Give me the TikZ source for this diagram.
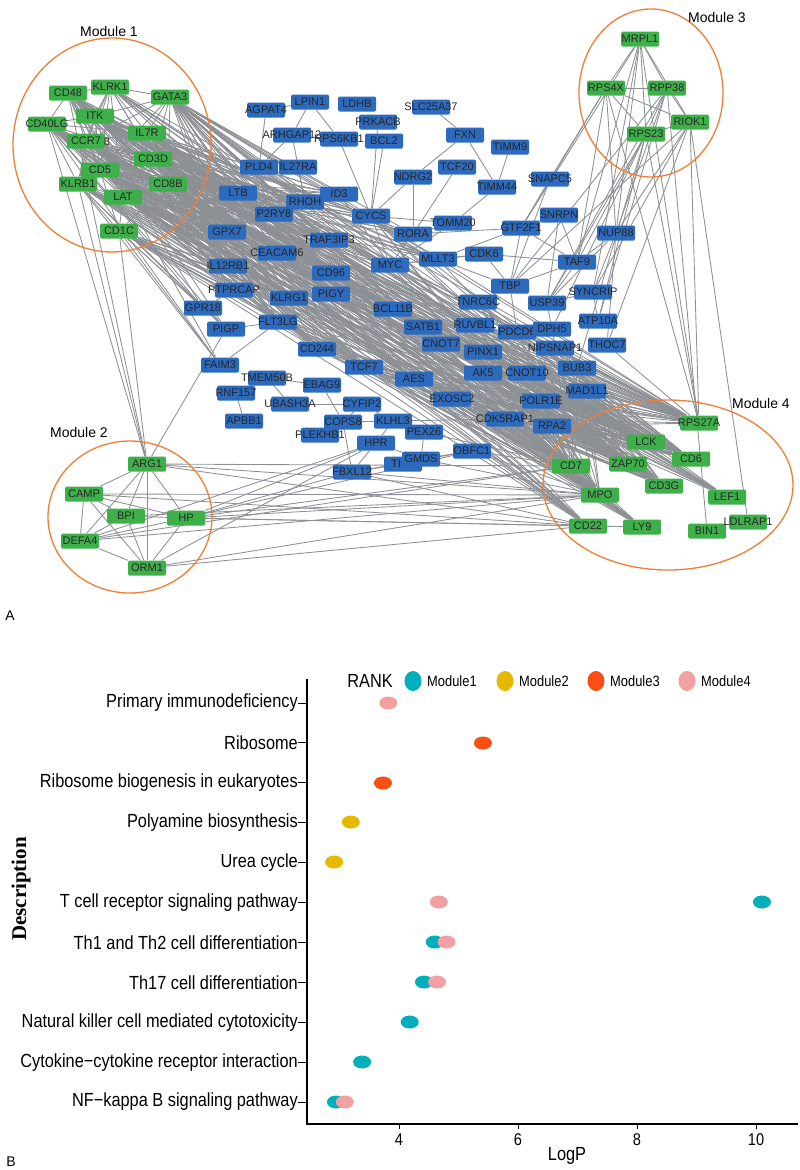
\documentclass[tikz,border=0pt]{standalone}
\usepackage{fontspec}
\setmainfont{Liberation Sans}
\newfontfamily\narrowfont[FakeStretch=0.86]{Liberation Sans}
\newfontfamily\serifbold{Liberation Serif}

\definecolor{genegreen}{RGB}{62,176,74}
\definecolor{geneblue}{RGB}{44,106,190}
\definecolor{edgegray}{RGB}{140,143,148}
\definecolor{ringorange}{RGB}{240,126,52}
\definecolor{modA}{RGB}{0,175,187}
\definecolor{modB}{RGB}{231,184,0}
\definecolor{modC}{RGB}{250,78,20}
\definecolor{modD}{RGB}{242,160,164}

\pgfdeclarelayer{edges}
\pgfsetlayers{edges,main}

\tikzset{
  gene/.style={rectangle, rounded corners=1.5pt, minimum width=38pt, minimum height=15pt, inner sep=0pt},
  m/.style={gene, fill=genegreen},
  h/.style={gene, fill=geneblue},
  gtext/.style={font=\fontsize{11}{13}\selectfont, text=black!85, inner sep=0pt},
  modlab/.style={font=\fontsize{14}{16}\selectfont},
  modring/.style={draw=ringorange, line width=1.3pt},
  link/.style={draw=edgegray, line width=0.85pt},
  rowlab/.style={font=\narrowfont\fontsize{19}{21}\selectfont, anchor=east, inner sep=0pt},
  legtext/.style={font=\narrowfont\fontsize{15}{17}\selectfont, anchor=west, inner sep=0pt},
  ticklab/.style={font=\narrowfont\fontsize{17}{19}\selectfont}
}

% box + label drawn on top (long labels run over the box)
\newcommand{\gene}[4]{\node[#1] (#2) at (#3) {}; \node[gtext] at (#2.center) {#4};}

\begin{document}
\begin{tikzpicture}[x=1pt,y=-1pt]
\useasboundingbox (0,0) rectangle (800,1170);

% ---------- (A) network ----------
% module rings
\draw[modring] (112,145) ellipse (99pt and 107pt);
\draw[modring] (130,517) ellipse (82pt and 76pt);
\draw[modring] (651,93) ellipse (72pt and 84pt);
\draw[modring] (668,485) ellipse (125pt and 85pt);
\node[modlab] at (109,31) {Module 1};
\node[modlab] at (79,432) {Module 2};
\node[modlab] at (717,17) {Module 3};
\node[modlab] at (761,403) {Module 4};

% green hub genes
\foreach \n/\x/\y in {CD48/68/93, KLRK1/110/87, GATA3/170/97, ITK/95/116, CD40LG/47/124,
    IL7R/147/133, CCR7/86/141, CD3D/153/159, CD5/100/170, KLRB1/78/184, CD8B/168/184,
    LAT/123/197, CD1C/119/231,
    MRPL1/640/39, RPS4X/606/88, RPP38/667/88, RIOK1/690/122, RPS23/646/134,
    ARG1/147/464, CAMP/84/494, BPI/126/516, HP/186/518, DEFA4/80/541, ORM1/147/568,
    RPS27A/699/423, LCK/646/442, CD6/691/459, CD7/571/466, ZAP70/628/464, CD3G/664/486,
    MPO/600/495, LEF1/727/497, CD22/588/526, LY9/642/527, BIN1/707/531, LDLRAP1/748/522}
  \gene{m}{\n}{\x,\y}{\n};
\node[gtext] (ccr7b) at (107,142) {8};

% blue genes
\foreach \n/\x/\y in {AGPAT4/266/110, LPIN1/310/102, LDHB/357/104, SLC25A37/431/107,
    PRKACB/378/122, ARHGAP12/292/135, RPS6KB1/339/139, BCL2/384/141, FXN/465/135,
    PLD4/259/167, IL27RA/298/167, NDRG2/413/177, TCF20/457/167, TIMM9/510/147,
    SNAPC5/550/179, TIMM44/497/187, LTB/238/193, ID3/339/194, RHOH/305/202,
    P2RY8/274/214, CYCS/371/216, TOMM20/453/223, SNRPN/559/215, GTF2F1/521/228,
    NUP88/616/233, RORA/413/234, GPX7/227/232, TRAF3IP3/329/240, CEACAM6/277/253,
    MYC/390/265, MLLT3/438/259, CDK6/484/254, TAF9/577/262, IL12RB1/228/266,
    CD96/331/273, TBP/510/286, SYNCRIP/593/292, PTPRCAP/234/290, PIGY/331/294,
    KLRG1/289/298, TNRC6C/478/302, USP39/547/303, GPR18/203/308, BCL11B/393/309,
    ATP10A/598/321, FLT3LG/278/322, RUVBL1/475/325, SATB1/423/327, PIGP/226/329,
    PDCD6/517/332, DPH5/552/329, CNOT7/441/344, THOC7/607/345, NIPSNAP1/555/348,
    CD244/317/349, PINX1/483/352, FAIM3/220/365, TCF7/364/367, BUB3/577/368,
    CNOT10/527/373, AK5/483/373, TMEM50B/267/378, AES/414/379, EBAG9/322/385,
    MAD1L1/587/391, RNF157/236/393, EXOSC2/452/399, POLR1E/541/401, UBASH3A/290/404,
    CYFIP2/362/404, CDK5RAP1/505/419, APBB1/244/421, COPS8/343/422, KLHL3/393/421,
    RPA2/552/426, PEX26/424/432, PLEKHB1/320/435, HPR/376/443, OBFC1/472/451,
    FBXL12/352/472}
  \gene{h}{\n}{\x,\y}{\n};
\node[h] (TIx) at (403,464) {};
\node[gtext] at (396,464) {TI};
\gene{h}{GMDS}{421,459}{GMDS};

\begin{pgfonlayer}{edges}
% inside module 1
\foreach \a/\b in {CD48/KLRK1, CD48/ITK, CD48/CD40LG, CD48/CCR7, CD48/IL7R, CD48/CD3D,
    CD48/CD5, CD48/LAT, CD48/CD8B, KLRK1/GATA3, KLRK1/ITK, KLRK1/CCR7, KLRK1/IL7R,
    KLRK1/CD3D, KLRK1/CD5, KLRK1/KLRB1, KLRK1/CD8B, KLRK1/LAT, GATA3/ITK, GATA3/IL7R,
    GATA3/CCR7, GATA3/CD3D, GATA3/CD8B, GATA3/CD5, ITK/CD40LG, ITK/IL7R, ITK/CCR7,
    ITK/CD3D, ITK/CD5, ITK/LAT, ITK/CD8B, ITK/KLRB1, CD40LG/CCR7, CD40LG/CD5,
    CD40LG/KLRB1, CD40LG/IL7R, CD40LG/CD3D, CD40LG/LAT, IL7R/CCR7, IL7R/CD3D, IL7R/CD8B,
    IL7R/LAT, IL7R/CD5, CCR7/CD3D, CCR7/CD5, CCR7/LAT, CCR7/CD8B, CCR7/KLRB1, CD3D/CD5,
    CD3D/CD8B, CD3D/LAT, CD5/KLRB1, CD5/LAT, CD5/CD8B, CD5/CD1C, KLRB1/LAT, CD8B/LAT,
    LAT/CD1C, CD8B/CD1C, KLRB1/CD1C}
  \draw[link] (\a) -- (\b);
% module 1 to module 4
\foreach \a in {CD48,KLRK1,GATA3,ITK,CD40LG,IL7R,CCR7,CD3D,CD5,KLRB1,CD8B,LAT,CD1C}
  \foreach \b in {LCK,ZAP70,CD3G,CD6,CD7,LEF1,RPS27A,CD22,LY9,MPO}
    \draw[link] (\a) -- (\b);
% module 1 to blue genes
\foreach \a in {ITK,IL7R,CD3D,CD5,CD8B,LAT,CCR7,GATA3}
  \foreach \b in {CD96,KLRG1,PIGY,CD244,BCL11B,SATB1,TCF7,AES,MYC,RORA,FLT3LG,IL12RB1,
      CEACAM6,GPX7,LTB,P2RY8,RHOH,ID3,CYCS,TRAF3IP3,RUVBL1,CNOT7,MLLT3}
    \draw[link] (\a) -- (\b);
\foreach \a in {CD40LG,CD48,KLRB1,CD1C}
  \foreach \b in {PTPRCAP,GPR18,PIGP,FAIM3,IL12RB1,CD244,TCF7,KLRG1}
    \draw[link] (\a) -- (\b);
% blue genes to module 4
\foreach \a in {CD96,KLRG1,PIGY,CD244,BCL11B,SATB1,TCF7,AES,CNOT7,PINX1,AK5,CNOT10,
    POLR1E,RPA2,CDK5RAP1,EXOSC2,MAD1L1,BUB3,MYC,RUVBL1,TNRC6C,PDCD6,NIPSNAP1,FLT3LG,CYCS}
  \foreach \b in {LCK,ZAP70,CD3G,CD7,RPS27A,MPO,CD6}
    \draw[link] (\a) -- (\b);
% module 2
\foreach \a/\b in {ARG1/CAMP, ARG1/BPI, ARG1/HP, ARG1/DEFA4, ARG1/ORM1, CAMP/BPI,
    CAMP/HP, CAMP/DEFA4, CAMP/ORM1, BPI/HP, BPI/DEFA4, BPI/ORM1, HP/DEFA4, HP/ORM1,
    DEFA4/ORM1, ARG1/CD48, ARG1/CD40LG, ARG1/KLRB1, ARG1/CD1C, ARG1/PIGP, ARG1/MPO,
    ARG1/CD7, ARG1/CD22, CAMP/MPO, CAMP/CD22, HP/MPO, HP/CD22, HP/LY9, HP/CD7, HP/HPR,
    HP/FBXL12, HP/OBFC1, BPI/MPO, DEFA4/MPO, DEFA4/CD7, DEFA4/HPR, ORM1/MPO, ORM1/HPR,
    ORM1/CD22}
  \draw[link] (\a) -- (\b);
% module 3
\foreach \a/\b in {MRPL1/RPS4X, MRPL1/RPP38, MRPL1/RPS23, MRPL1/RIOK1, RPS4X/RPP38,
    RPS4X/RPS23, RPS4X/RIOK1, RPP38/RPS23, RPP38/RIOK1, RPS23/RIOK1, RPS4X/GTF2F1,
    RPS4X/SNAPC5, RPS4X/NUP88, RPS4X/TAF9, MRPL1/NUP88, MRPL1/TAF9, MRPL1/SYNCRIP,
    MRPL1/RPS27A, RPP38/NUP88, RPP38/USP39, RPP38/TBP, RPP38/ATP10A, RPP38/BIN1,
    RIOK1/RPS27A, RIOK1/NUP88, RIOK1/SYNCRIP, RIOK1/THOC7, RIOK1/TBP, RIOK1/LDLRAP1,
    RPS23/TAF9, RPS23/USP39, RPS23/DPH5, RPS23/ATP10A, RPS23/RPS27A, RPS23/BUB3,
    MRPL1/GTF2F1, RPS4X/RPS27A}
  \draw[link] (\a) -- (\b);
% among blue genes
\foreach \a/\b in {AGPAT4/LPIN1, AGPAT4/PLD4, LPIN1/ARHGAP12, LPIN1/RPS6KB1,
    ARHGAP12/PLD4, ARHGAP12/RHOH, IL27RA/RHOH, RPS6KB1/CYCS, PRKACB/CYCS, BCL2/CYCS,
    SLC25A37/FXN, FXN/NDRG2, FXN/TIMM44, TIMM9/TIMM44, TCF20/RORA, NDRG2/CYCS,
    NDRG2/RORA, CYCS/TOMM20, CYCS/MYC, TIMM44/TOMM20, TOMM20/RORA, TOMM20/MYC,
    PLD4/P2RY8, ID3/MYC, RORA/MYC, GTF2F1/SNAPC5, GTF2F1/SNRPN, GTF2F1/TAF9, GTF2F1/TBP,
    GTF2F1/MLLT3, GTF2F1/RORA, SNRPN/TAF9, SNRPN/USP39, SNAPC5/TBP, TAF9/TBP, TAF9/USP39,
    TAF9/CDK6, TBP/MLLT3, TBP/TNRC6C, CDK6/TBP, CDK6/MLLT3, MYC/MLLT3, MYC/CDK6,
    USP39/SYNCRIP, SYNCRIP/ATP10A, NUP88/SYNCRIP, NUP88/TAF9, NUP88/USP39, DPH5/PDCD6,
    NIPSNAP1/DPH5, USP39/DPH5, TBP/PDCD6, THOC7/NUP88, BUB3/MAD1L1, PIGP/FLT3LG,
    PTPRCAP/GPR18, FLT3LG/FAIM3, TMEM50B/RNF157, RNF157/APBB1, TMEM50B/EBAG9,
    UBASH3A/CYFIP2, CYFIP2/COPS8, CYFIP2/KLHL3, COPS8/KLHL3, COPS8/PLEKHB1, KLHL3/PEX26,
    KLHL3/HPR, HPR/FBXL12, COPS8/FBXL12, PEX26/GMDS, HPR/GMDS, OBFC1/GMDS, FBXL12/TIx,
    FBXL12/OBFC1, CDK5RAP1/KLHL3, EBAG9/COPS8, UBASH3A/TMEM50B, MLLT3/TNRC6C,
    CNOT7/CNOT10, PINX1/AK5, OBFC1/CD7, OBFC1/MPO, GMDS/MPO, FBXL12/MPO, FBXL12/CD22,
    PEX26/CD7, THOC7/RPS27A, BUB3/RPS27A, NIPSNAP1/RPS27A}
  \draw[link] (\a) -- (\b);
\end{pgfonlayer}
\node[modlab] (pa) at (10,616) {A};

% ---------- (B) enrichment dot plot ----------
\draw[line width=1.3pt] (307,679) -- (307,1124) -- (798,1124);
\foreach \lab [count=\i] in {Primary immunodeficiency, Ribosome,
    Ribosome biogenesis in eukaryotes, Polyamine biosynthesis, Urea cycle,
    T cell receptor signaling pathway, Th1 and Th2 cell differentiation,
    Th17 cell differentiation, Natural killer cell mediated cytotoxicity,
    Cytokine−cytokine receptor interaction, NF−kappa B signaling pathway}
{
  \node[rowlab] (row\i) at (298,663.1+39.9*\i) {\lab};
  \draw[line width=1pt] (row\i.east) -- ++(9,0);
}
\foreach \v in {4,6,8,10}
  \draw[line width=1pt] (161+59.5*\v,1124) -- ++(0,5) node[below=1pt, ticklab] {\v};
\node[font=\narrowfont\fontsize{19}{21}\selectfont] (xlab) at (567,1156) {LogP};
\node[rotate=90, font=\serifbold\bfseries\fontsize{21}{24}\selectfont] (ylab) at (21,889) {Description};
\node[modlab] (pb) at (11,1162) {B};

% legend
\node[font=\narrowfont\fontsize{19}{21}\selectfont] (rank) at (370,681) {RANK};
\foreach \c/\t/\x in {modA/Module1/413, modB/Module2/505, modC/Module3/596, modD/Module4/687}
{
  \fill[\c] (\x,681) ellipse (8.5pt and 10pt);
  \node[legtext] at (\x+14,681) {\t};
}

% points, x in LogP units
\begin{scope}[xshift=161pt, x=59.5pt]
\fill[modD] (3.82,703) ellipse (9pt and 6.5pt);
\fill[modC] (5.41,743) ellipse (9pt and 6.5pt);
\fill[modC] (3.73,783) ellipse (9pt and 6.5pt);
\fill[modB] (3.19,822) ellipse (9pt and 6.5pt);
\fill[modB] (2.91,862) ellipse (9pt and 6.5pt);
\fill[modD] (4.67,902) ellipse (9pt and 6.5pt);
\fill[modA] (10.1,902) ellipse (9pt and 6.5pt);
\fill[modA] (4.60,942) ellipse (9pt and 6.5pt);
\fill[modD] (4.80,942) ellipse (9pt and 6.5pt);
\fill[modA] (4.42,982) ellipse (9pt and 6.5pt);
\fill[modD] (4.64,982) ellipse (9pt and 6.5pt);
\fill[modA] (4.18,1022) ellipse (9pt and 6.5pt);
\fill[modA] (3.38,1062) ellipse (9pt and 6.5pt);
\fill[modA] (2.94,1102) ellipse (9pt and 6.5pt);
\fill[modD] (3.09,1102) ellipse (9pt and 6.5pt);
\end{scope}
\end{tikzpicture}
\end{document}
